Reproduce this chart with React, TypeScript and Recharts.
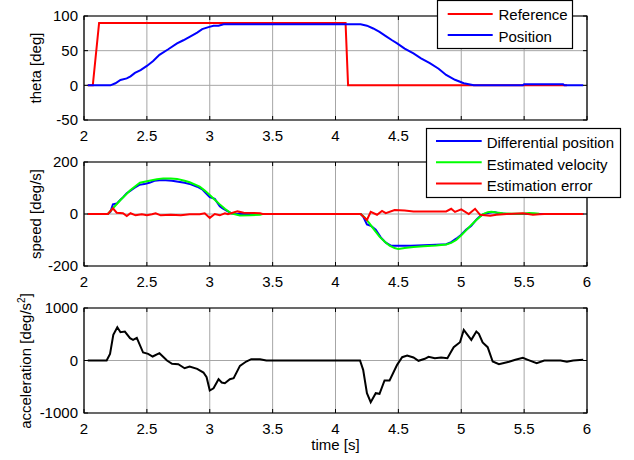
import { CartesianGrid, Line, LineChart, ReferenceArea, XAxis, YAxis } from "recharts";

const FONT = "'Liberation Sans', Arial, Helvetica, sans-serif";
const W = 634;
const LEFT = 84;
const RIGHT = 587;

const timeTicks = [2, 2.5, 3, 3.5, 4, 4.5, 5, 5.5, 6];
const thetaTicks = [-50, 0, 50, 100];
const speedTicks = [-200, 0, 200];
const accTicks = [-1000, 0, 1000];
// tick labels of the top plot that sit under the speed legend
const coveredTopLabels = [5, 5.5, 6];

// top plot
const refT = [2.03, 2.07, 2.12, 4.08, 4.1, 5.84];
const refV = [0, 0, 90, 90, 0, 0];

const posT = [2.03, 2.21, 2.25, 2.29, 2.34, 2.37, 2.405, 2.45, 2.5, 2.55, 2.6, 2.67, 2.74, 2.79, 2.84, 2.9, 2.94, 2.99, 3.03, 3.07, 3.11, 4.2, 4.25, 4.3, 4.35, 4.4, 4.45, 4.49, 4.55, 4.62, 4.68, 4.75, 4.82, 4.88, 4.95, 5.02, 5.1, 5.49, 5.5, 5.81, 5.82, 5.97];
const posV = [0, 0, 3, 7.7, 10, 13, 18, 22, 28, 35, 44, 52, 60.6, 65, 70, 76, 81, 84, 86, 86, 88, 88, 86, 82, 77, 71, 65, 60.6, 53, 46, 39, 32, 24, 15, 8, 3, 0, 0, 1.5, 1.5, 0, 0];

// middle plot
const diffT = [2.03, 2.19, 2.21, 2.23, 2.26, 2.29, 2.31, 2.34, 2.37, 2.4, 2.44, 2.48, 2.52, 2.56, 2.6, 2.65, 2.7, 2.75, 2.8, 2.85, 2.9, 2.94, 2.97, 3.0, 3.04, 3.08, 3.1, 3.13, 3.17, 3.22, 4.2, 4.22, 4.25, 4.28, 4.32, 4.36, 4.4, 4.44, 4.5, 4.6, 4.7, 4.8, 4.88, 4.92, 4.96, 5.0, 5.04, 5.08, 5.12, 5.15, 5.18, 5.22, 5.26, 5.3, 5.36, 5.97];
const diffV = [0, 0, 8, 37, 40, 55, 64, 80, 90, 100, 112, 115, 120, 128, 130, 130, 128, 124, 120, 114, 105, 95, 80, 65, 58, 30, 22, 14, 3, 0, 0, -10, -40, -45, -60, -90, -110, -122, -122, -122, -120, -118, -116, -108, -95, -80, -60, -45, -22, -8, 0, 5, 8, 3, 0, 0];

const estT = [2.03, 2.19, 2.23, 2.29, 2.37, 2.445, 2.52, 2.58, 2.63, 2.69, 2.74, 2.8, 2.84, 2.92, 2.96, 3.0, 3.04, 3.08, 3.12, 3.17, 3.24, 3.32, 3.4, 3.42, 4.2, 4.23, 4.27, 4.31, 4.35, 4.39, 4.43, 4.47, 4.5, 4.55, 4.62, 4.7, 4.8, 4.88, 4.92, 4.96, 5.0, 5.04, 5.08, 5.12, 5.175, 5.21, 5.24, 5.28, 5.33, 5.4, 5.49, 5.54, 5.58, 5.62];
const estV = [0, 0, 22, 54, 92, 120, 128, 134, 137, 137, 135, 128, 122, 105, 90, 73, 55, 37, 20, 3, -6, -5, -3, 0, 0, -12, -36, -62, -87, -106, -122, -131, -135, -131, -127, -124, -121, -117, -111, -100, -82, -62, -42, -23, 0, 7, 9, 6, 3, 1, 1, 4, 3, 1];

const errT = [2.03, 2.19, 2.23, 2.26, 2.31, 2.34, 2.37, 2.41, 2.46, 2.5, 2.54, 2.57, 2.61, 2.69, 2.77, 2.84, 2.92, 2.96, 3.0, 3.04, 3.08, 3.12, 3.145, 3.22, 3.27, 3.4, 3.42, 4.2, 4.25, 4.28, 4.33, 4.37, 4.4, 4.47, 4.55, 4.62, 4.75, 4.88, 4.92, 4.95, 5.0, 5.06, 5.11, 5.15, 5.23, 5.28, 5.36, 5.49, 5.57, 5.62, 5.66, 5.97];
const errV = [0, 0, 22, 5, 3, -8, 3, -5, -1, -5, -1, 3, -5, -3, -5, -1, -1, 3, -15, 0, -5, 3, -1, 10, 5, 3, 0, 0, -23, 8, -3, 12, 3, 15, 13, 10, 10, 10, 20, 8, 18, 0, 20, -3, -7, -3, 0, 3, -3, -1, 0, 0];

// bottom plot
const accT = [2.03, 2.18, 2.207, 2.233, 2.265, 2.29, 2.325, 2.366, 2.39, 2.42, 2.47, 2.51, 2.546, 2.6, 2.66, 2.7, 2.75, 2.8, 2.84, 2.9, 2.95, 2.975, 3.0, 3.03, 3.07, 3.095, 3.12, 3.16, 3.19, 3.24, 3.29, 3.33, 3.4, 3.45, 4.195, 4.22, 4.25, 4.28, 4.32, 4.35, 4.39, 4.43, 4.49, 4.53, 4.57, 4.62, 4.66, 4.71, 4.74, 4.79, 4.84, 4.89, 4.92, 4.94, 4.99, 5.02, 5.08, 5.12, 5.14, 5.17, 5.21, 5.25, 5.3, 5.38, 5.43, 5.49, 5.53, 5.6, 5.66, 5.79, 5.84, 5.89, 5.97];
const accV = [0, 0, 126, 488, 634, 539, 552, 425, 393, 431, 152, 126, 76, 139, 0, -64, -70, -147, -113, -160, -229, -318, -572, -530, -356, -420, -432, -356, -337, -102, -19, 25, 25, 0, 0, -178, -623, -794, -623, -635, -381, -381, -83, 63, 95, 57, -6, 32, 70, 44, 57, 44, 171, 254, 349, 584, 393, 552, 508, 343, 254, -19, -70, -25, 13, 51, 13, -51, 0, 0, -25, 0, 13];

const zip = (ts: number[], vs: number[]) => ts.map((t, i) => ({ t, v: vs[i] }));

const refData = zip(refT, refV);
const posData = zip(posT, posV);
const diffData = zip(diffT, diffV);
const estData = zip(estT, estV);
const errData = zip(errT, errV);
const accData = zip(accT, accV);

const XTick = (props: any) => {
  const { x, payload, top, bottom, hide } = props;
  const showLabel = !(hide || []).includes(payload.value);
  return (
    <g>
      <line x1={x} x2={x} y1={bottom} y2={bottom - 4} stroke="#000" />
      <line x1={x} x2={x} y1={top} y2={top + 4} stroke="#000" />
      {showLabel && (
        <text x={x} y={bottom + 10} dy="0.71em" textAnchor="middle" fontSize={15} fontFamily={FONT} fill="#000">
          {payload.value}
        </text>
      )}
    </g>
  );
};

const YTick = (props: any) => {
  const { y, payload } = props;
  return (
    <g>
      <line x1={LEFT} x2={LEFT + 4} y1={y} y2={y} stroke="#000" />
      <line x1={RIGHT} x2={RIGHT - 4} y1={y} y2={y} stroke="#000" />
      <text x={LEFT - 6} y={y} dy="0.355em" textAnchor="end" fontSize={15} fontFamily={FONT} fill="#000">
        {payload.value}
      </text>
    </g>
  );
};

interface PanelProps {
  top: number;
  plotH: number;
  yTicks: number[];
  hideLabels?: number[];
  children: React.ReactNode;
}

const Panel = ({ top, plotH, yTicks, hideLabels, children }: PanelProps) => {
  const h = 16 + plotH + 26;
  const yMin = yTicks[0];
  const yMax = yTicks[yTicks.length - 1];
  return (
    <div style={{ position: "absolute", top, left: 0 }}>
      <LineChart width={W} height={h} margin={{ top: 16, right: W - RIGHT, bottom: 0, left: 0 }}>
        <CartesianGrid stroke="#a6a6a6" strokeWidth={1} />
        <XAxis
          dataKey="t"
          type="number"
          domain={[2, 6]}
          ticks={timeTicks}
          allowDataOverflow
          height={26}
          axisLine={false}
          tickLine={false}
          tick={(p: any) => <XTick {...p} top={16} bottom={16 + plotH} hide={hideLabels} />}
        />
        <YAxis
          type="number"
          domain={[yMin, yMax]}
          ticks={yTicks}
          allowDataOverflow
          width={LEFT}
          axisLine={false}
          tickLine={false}
          tick={(p: any) => <YTick {...p} />}
        />
        <ReferenceArea x1={2} x2={6} y1={yMin} y2={yMax} fill="none" fillOpacity={0} stroke="#000" strokeWidth={1.2} />
        {children}
      </LineChart>
    </div>
  );
};

const series = (data: { t: number; v: number }[], color: string, name: string, width = 2) => (
  <Line
    key={name}
    data={data}
    dataKey="v"
    name={name}
    type="linear"
    stroke={color}
    strokeWidth={width}
    dot={false}
    activeDot={false}
    isAnimationActive={false}
  />
);

export default function App() {
  return (
    <div style={{ position: "absolute", top: 0, left: 0, width: W, height: 460, background: "#fff", fontFamily: FONT }}>
      <Panel top={0} plotH={104} yTicks={thetaTicks} hideLabels={coveredTopLabels}>
        {series(refData, "#ff0000", "Reference")}
        {series(posData, "#0000ff", "Position")}
      </Panel>
      <Panel top={146} plotH={104} yTicks={speedTicks}>
        {series(diffData, "#0000ff", "Differential position")}
        {series(estData, "#00ff00", "Estimated velocity")}
        {series(errData, "#ff0000", "Estimation error")}
      </Panel>
      <Panel top={292} plotH={105} yTicks={accTicks}>
        {series(accData, "#000000", "Acceleration")}
      </Panel>
      <svg width={W} height={460} style={{ position: "absolute", top: 0, left: 0, pointerEvents: "none" }} fontFamily={FONT} fontSize={15}>
        <text transform="translate(41,68) rotate(-90)" textAnchor="middle" fill="#000">theta [deg]</text>
        <text transform="translate(40.5,214) rotate(-90)" textAnchor="middle" fill="#000">speed [deg/s]</text>
        <text transform="translate(30.5,361) rotate(-90)" textAnchor="middle" fill="#000">
          acceleration [deg/s<tspan dy={-6} fontSize={10}>2</tspan><tspan dy={6}>]</tspan>
        </text>
        <text x={335.5} y={450} textAnchor="middle" fill="#000">time [s]</text>

        <rect x={437.5} y={0.5} width={135} height={48} fill="#fff" stroke="#000" strokeWidth={1.2} />
        <line x1={447.7} x2={492.7} y1={14} y2={14} stroke="#ff0000" strokeWidth={2} />
        <text x={498.5} y={20} fill="#000">Reference</text>
        <line x1={447.7} x2={492.7} y1={35} y2={35} stroke="#0000ff" strokeWidth={2} />
        <text x={498.5} y={41.5} fill="#000">Position</text>

        <rect x={426.5} y={128.5} width={194} height={69} fill="#fff" stroke="#000" strokeWidth={1.2} />
        <line x1={436} x2={481.7} y1={141} y2={141} stroke="#0000ff" strokeWidth={2} />
        <text x={486.7} y={148.3} fill="#000">Differential position</text>
        <line x1={436} x2={481.7} y1={162.3} y2={162.3} stroke="#00ff00" strokeWidth={2} />
        <text x={486.7} y={169.7} fill="#000">Estimated velocity</text>
        <line x1={436} x2={481.7} y1={183.5} y2={183.5} stroke="#ff0000" strokeWidth={2} />
        <text x={486.7} y={191} fill="#000">Estimation error</text>
      </svg>
    </div>
  );
}
